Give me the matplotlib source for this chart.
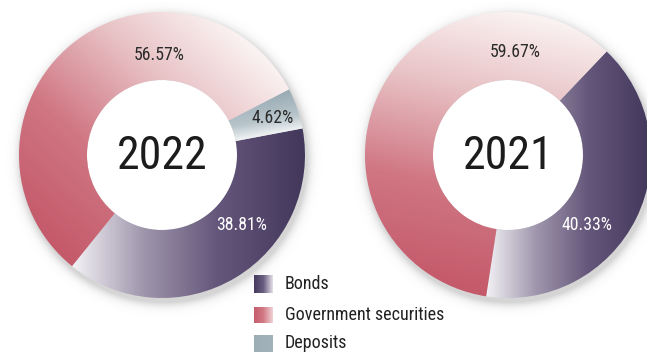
import numpy as np
import matplotlib
matplotlib.use("Agg")
import matplotlib.pyplot as plt
from matplotlib.patches import Wedge, Circle
from matplotlib.colors import LinearSegmentedColormap
from matplotlib import font_manager

# ---- data -------------------------------------------------------------
years = ["2022", "2021"]
categories = ["Bonds", "Government securities", "Deposits"]
bonds = [38.81, 40.33]
government = [56.57, 59.67]
deposits = [4.62, 0.0]

# ---- layout -----------------------------------------------------------
W, H = 647, 352
centers = [(162, 197), (508, 197)]
R_OUT, R_IN = 143, 75
bond_start = [-129.0, -98.8]          # where the Bonds slice begins (deg, ccw)
# direction (deg) in which each slice's gradient darkens
grad_dir = {
    "Bonds": [0.0, 0.0],
    "Government securities": [228.0, 258.0],
    "Deposits": [100.0, 100.0],
}
# label offsets from the donut centre (px, y up)
label_offsets = {
    "Bonds": [(80, -70), (79, -70)],
    "Government securities": [(-3, 100), (7, 103)],
    "Deposits": [(111, 37), None],
}
label_colors = {"Bonds": "white", "Government securities": "#2a2a2a", "Deposits": "#2a2a2a"}

names = {f.name for f in font_manager.fontManager.ttflist}
FONT = next((n for n in ["Roboto Condensed", "Archivo Narrow", "PT Sans Narrow",
                         "IBM Plex Sans Condensed", "Liberation Sans"] if n in names),
            "DejaVu Sans")
plt.rcParams["font.family"] = [FONT, "DejaVu Sans"]

cmaps = {
    "Bonds": LinearSegmentedColormap.from_list(
        "bonds", [(0, "#f3f1f5"), (0.3, "#a097ad"), (0.62, "#65577b"), (1, "#43375c")]),
    "Government securities": LinearSegmentedColormap.from_list(
        "gov", [(0, "#fbf3f3"), (0.3, "#e8c2c5"), (0.65, "#d07683"), (1, "#c4596a")]),
    "Deposits": LinearSegmentedColormap.from_list(
        "dep", [(0, "#f2f4f5"), (0.35, "#b9c6cc"), (1, "#98aab3")]),
}

fig = plt.figure(figsize=(W / 100, H / 100), dpi=100)
ax = fig.add_axes([0, 0, 1, 1])
ax.set_xlim(0, W)
ax.set_ylim(0, H)
ax.axis("off")

# soft drop shadow under each donut
yy, xx = np.mgrid[0:H, 0:W] + 0.5
shadow = np.zeros((H, W, 4))
alpha = np.zeros((H, W))
for cx, cy in centers:
    d = np.hypot(xx - (cx + 2), yy - (cy - 4))
    a = np.where(d <= R_OUT, 0.3, 0.3 * np.exp(-((d - R_OUT) / 5.0) ** 1.3))
    alpha = np.maximum(alpha, a)
shadow[..., 0:3] = 0.45
shadow[..., 3] = alpha
ax.imshow(shadow, extent=(0, W, 0, H), origin="lower", interpolation="bilinear", zorder=1)


def draw_slice(center, t1, t2, cmap, direction):
    cx, cy = center
    wedge = Wedge(center, R_OUT, t1, t2, width=R_OUT - R_IN,
                  facecolor="none", edgecolor="none", zorder=2)
    ax.add_patch(wedge)
    n = 2 * R_OUT * 2
    x = np.linspace(cx - R_OUT, cx + R_OUT, n)
    y = np.linspace(cy - R_OUT, cy + R_OUT, n)
    X, Y = np.meshgrid(x, y)
    th = np.radians(direction)
    p = (X - cx) * np.cos(th) + (Y - cy) * np.sin(th)
    r = np.hypot(X - cx, Y - cy)
    ang = np.degrees(np.arctan2(Y - cy, X - cx))
    inside = (r >= R_IN) & (r <= R_OUT) & (((ang - t1) % 360) <= (t2 - t1))
    lo, hi = p[inside].min(), p[inside].max()
    t = np.clip((p - lo) / (hi - lo), 0, 1)
    im = ax.imshow(t, cmap=cmap, vmin=0, vmax=1, origin="lower",
                   extent=(cx - R_OUT, cx + R_OUT, cy - R_OUT, cy + R_OUT),
                   interpolation="bilinear", zorder=2)
    im.set_clip_path(wedge)


for i, (year, center) in enumerate(zip(years, centers)):
    cx, cy = center
    ax.add_patch(Circle(center, R_IN, facecolor="white", edgecolor="none", zorder=1.5))
    a = bond_start[i]
    order = [("Bonds", bonds[i]), ("Deposits", deposits[i]), ("Government securities", government[i])]
    for name, share in order:
        if share <= 0:
            continue
        span = share * 3.6
        draw_slice(center, a, a + span, cmaps[name], grad_dir[name][i])
        off = label_offsets[name][i]
        ax.text(cx + off[0], cy + off[1], f"{share:.2f}%", ha="center", va="center",
                fontsize=12.8, color=label_colors[name], zorder=5)
        a += span
    ax.text(cx, cy - 1, year, ha="center", va="center", fontsize=33, color="#1c1c1c", zorder=5)

# legend with gradient swatches
legend_rows = [(59, 77, 68), (29, 45, 37), (0, 17, 9)]
legend_cmaps = [
    LinearSegmentedColormap.from_list("lb", ["#463a60", "#6a5e80", "#e4e0e8"]),
    LinearSegmentedColormap.from_list("lg", ["#c75d6e", "#d27a86", "#f0d2d5"]),
    LinearSegmentedColormap.from_list("ld", ["#9cadb6", "#a3b3bb"]),
]
grad = np.linspace(0, 1, 64)[None, :]
for name, (y0, y1, yt), cm in zip(categories, legend_rows, legend_cmaps):
    ax.imshow(grad, cmap=cm, extent=(254, 273, y0, y1), origin="lower",
              interpolation="bilinear", zorder=3)
    ax.text(285, yt, name, ha="left", va="center", fontsize=13, color="#222222", zorder=5)

ax.set_xlim(0, W)
ax.set_ylim(0, H)
fig.savefig("out.png", dpi=100, facecolor="white")
